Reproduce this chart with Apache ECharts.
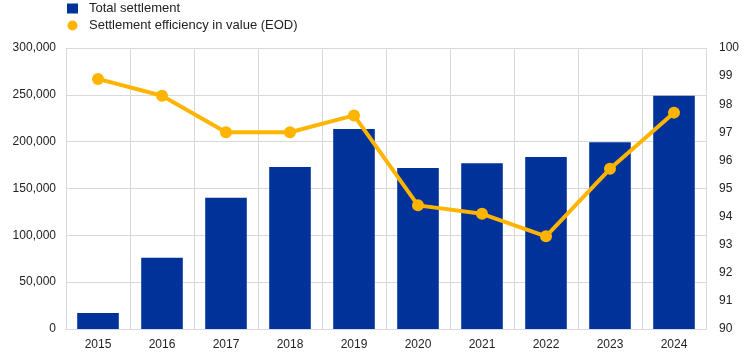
<!DOCTYPE html>
<html><head><meta charset="utf-8">
<script src="https://cdn.jsdelivr.net/npm/echarts@6/dist/echarts.min.js"></script>
<style>html,body{margin:0;padding:0;background:#fff}#c{width:744px;height:356px}</style>
</head><body><div id="c"></div>
<script>
const years = ['2015','2016','2017','2018','2019','2020','2021','2022','2023','2024'];
const totalSettlement = [17000, 76000, 140000, 173000, 213500, 172000, 177000, 183500, 199500, 249000];
const efficiency = [98.9, 98.3, 97.0, 97.0, 97.6, 94.4, 94.1, 93.3, 95.7, 97.7];
const seriesNames = ['Total settlement', 'Settlement efficiency in value (EOD)'];

const chart = echarts.init(document.getElementById('c'));
const font = 'Arial, "Liberation Sans", sans-serif';
chart.setOption({
  animation: false,
  legend: {
    orient: 'vertical', left: 62, top: 0, padding: [2, 5, 5, 5], itemWidth: 11, itemHeight: 10, itemGap: 4,
    textStyle: {fontFamily: font, fontSize: 13, color: '#222', padding: [0,0,0,6]},
    data: [{name: seriesNames[0], icon: 'rect'}, {name: seriesNames[1], icon: 'circle'}]
  },
  grid: {left: 66, right: 38, top: 48, bottom: 27},
  xAxis: {
    type: 'category', data: years,
    axisLine: {lineStyle: {color: '#d9d9d9'}}, axisTick: {show: false},
    splitLine: {show: true, lineStyle: {color: '#d9d9d9'}},
    axisLabel: {fontFamily: font, fontSize: 12, color: '#222', margin: 10}
  },
  yAxis: [{
    type: 'value', min: 0, max: 300000, interval: 50000,
    axisLine: {show: false}, axisTick: {show: false},
    splitLine: {lineStyle: {color: '#d9d9d9'}},
    axisLabel: {fontFamily: font, fontSize: 12, color: '#222', margin: 10,
      formatter: v => v.toLocaleString('en-US')}
  }, {
    type: 'value', min: 90, max: 100, interval: 1,
    axisLine: {show: true, lineStyle: {color: '#d9d9d9'}}, axisTick: {show: false},
    splitLine: {show: false},
    axisLabel: {fontFamily: font, fontSize: 12, color: '#222', margin: 13}
  }],
  series: [{
    name: seriesNames[0], type: 'bar', data: totalSettlement, barWidth: '65%',
    itemStyle: {color: '#003299'}
  }, {
    name: seriesNames[1], type: 'line', yAxisIndex: 1, data: efficiency,
    symbol: 'circle', symbolSize: 12,
    lineStyle: {color: '#ffb400', width: 4}, itemStyle: {color: '#ffb400'}
  }]
});
</script></body></html>
